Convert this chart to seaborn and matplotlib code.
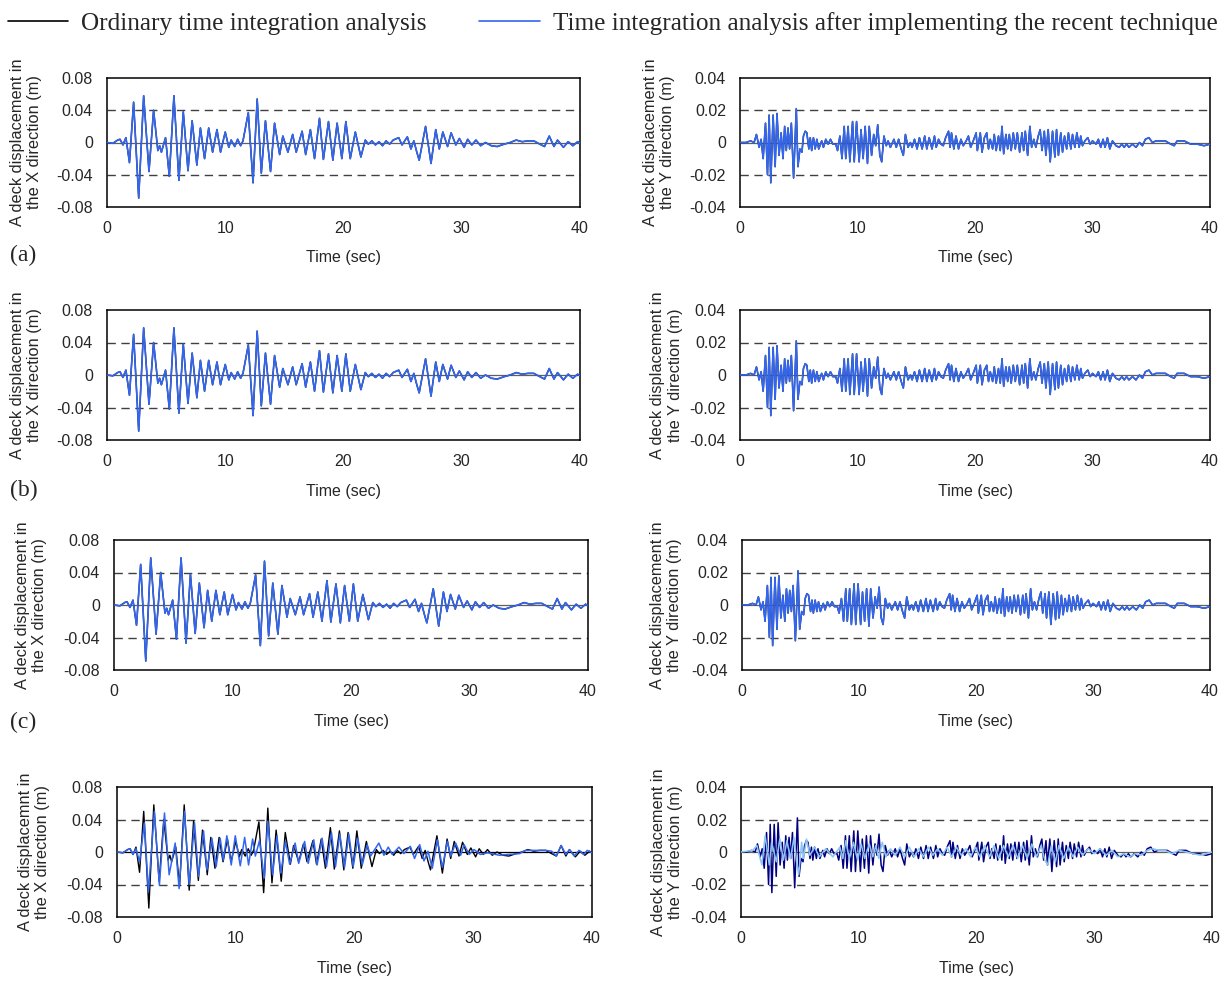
import numpy as np
import pandas as pd
import matplotlib
matplotlib.use("Agg")
import matplotlib.pyplot as plt
from matplotlib.lines import Line2D
import seaborn as sns

# ---- data: (time s, displacement m) at peaks / troughs ----
x_ordinary = [
    (0.0, 0.0), (0.5, -0.001), (0.9, 0.003), (1.1, 0.004), (1.35, -0.003), (1.6, 0.006),
    (1.9, -0.025), (2.25, 0.05), (2.68, -0.069), (3.1, 0.058), (3.55, -0.036), (3.94, 0.04),
    (4.3, -0.01), (4.45, -0.004), (4.6, -0.012), (4.95, 0.006), (5.27, -0.042), (5.66, 0.058),
    (6.08, -0.047), (6.45, 0.038), (6.85, -0.035), (7.2, 0.027), (7.6, -0.028), (7.9, 0.018),
    (8.25, -0.02), (8.6, 0.018), (8.93, -0.012), (9.3, 0.016), (9.6, -0.012), (10.0, 0.013),
    (10.3, -0.006), (10.5, 0.003), (10.8, -0.005), (11.05, 0.004), (11.3, -0.004), (11.5, 0.002),
    (11.95, 0.037), (12.35, -0.05), (12.7, 0.054), (13.05, -0.038), (13.4, 0.027),
    (13.83, -0.036), (14.17, 0.024), (14.6, -0.015), (14.87, 0.008), (15.3, -0.012),
    (15.7, 0.01), (16.0, -0.012), (16.5, 0.014), (16.8, -0.015), (17.2, 0.016), (17.55, -0.02),
    (17.97, 0.03), (18.3, -0.021), (18.73, 0.026), (19.1, -0.022), (19.46, 0.024),
    (19.86, -0.02), (20.2, 0.026), (20.57, -0.02), (21.0, 0.013), (21.47, -0.018),
    (21.84, 0.003), (22.1, -0.002), (22.4, 0.002), (22.7, -0.003), (23.0, 0.001),
    (23.3, -0.004), (23.6, 0.002), (23.9, -0.002), (24.2, 0.003), (24.67, 0.006),
    (24.95, -0.003), (25.4, 0.007), (25.7, -0.008), (25.95, 0.002), (26.2, -0.012),
    (26.4, -0.022), (26.94, 0.02), (27.4, -0.026), (27.8, 0.016), (28.1, -0.008),
    (28.4, 0.013), (28.8, -0.005), (29.1, 0.012), (29.5, -0.003), (29.8, 0.005),
    (30.2, -0.006), (30.5, 0.004), (30.85, -0.003), (31.2, 0.003), (31.6, -0.004),
    (32.0, 0.0), (32.5, -0.004), (33.0, -0.005), (33.6, -0.002), (34.1, 0.0), (34.6, 0.003),
    (35.1, 0.001), (35.6, 0.002), (36.1, 0.002), (36.6, -0.002), (37.0, -0.005),
    (37.4, 0.008), (37.8, -0.005), (38.1, 0.003), (38.6, -0.006), (39.0, 0.001),
    (39.4, -0.004), (39.8, 0.001), (40.0, -0.001),
]

# X record after the recent technique, case (d)
x_new_d = [
    (0.0, 0.0), (0.5, -0.001), (0.9, 0.003), (1.1, 0.004), (1.35, -0.003), (1.6, 0.004),
    (1.9, -0.012), (2.31, 0.036), (2.64, -0.049), (3.15, 0.05), (3.57, -0.041), (4.0, 0.048),
    (4.39, -0.028), (4.9, 0.011), (5.23, -0.045), (5.68, 0.05), (6.08, -0.04), (6.53, 0.036),
    (6.86, -0.03), (7.29, 0.026), (7.57, -0.022), (7.99, 0.017), (8.35, -0.018),
    (8.69, 0.017), (8.95, -0.01), (9.25, 0.02), (9.62, -0.016), (9.96, 0.02), (10.38, -0.017),
    (10.75, 0.018), (11.08, -0.016), (11.42, 0.016), (11.65, -0.005), (12.0, 0.014),
    (12.4, -0.032), (12.7, 0.038), (13.1, -0.028), (13.47, 0.02), (13.8, -0.026),
    (14.18, 0.013), (14.54, -0.015), (15.0, 0.011), (15.3, -0.014), (15.8, 0.013),
    (16.1, -0.014), (16.57, 0.015), (16.85, -0.016), (17.27, 0.017), (17.64, -0.018),
    (18.06, 0.024), (18.4, -0.018), (18.76, 0.022), (19.16, -0.019), (19.52, 0.022),
    (19.89, -0.018), (20.28, 0.017), (20.65, -0.016), (21.07, 0.009), (21.35, -0.005),
    (22.05, 0.011), (22.48, -0.004), (22.84, 0.006), (23.18, -0.003), (23.74, 0.006),
    (24.16, -0.002), (24.7, 0.007), (25.06, -0.008), (25.49, 0.009), (25.85, -0.011),
    (26.19, 0.001), (26.55, -0.02), (26.98, 0.015), (27.4, -0.019), (27.82, 0.013),
    (28.1, -0.005), (28.52, 0.011), (28.94, -0.004), (29.23, 0.009), (29.65, -0.003),
    (30.07, 0.003), (30.6, -0.003), (31.2, -0.001), (32.2, -0.004), (33.0, -0.003),
    (33.9, -0.002), (34.4, 0.002), (35.3, 0.002), (36.1, 0.002), (36.6, 0.001),
    (37.0, -0.005), (37.4, 0.008), (37.8, -0.003), (38.1, 0.003), (38.5, -0.005),
    (38.9, 0.002), (39.3, -0.003), (39.6, 0.002), (40.0, -0.001),
]

y_ordinary = [
    (0.0, 0.0), (0.5, 0.0), (0.9, 0.001), (1.2, 0.0), (1.4, 0.005), (1.63, -0.003),
    (1.8, 0.002), (1.97, -0.01), (2.17, 0.012), (2.34, -0.02), (2.48, 0.017), (2.62, -0.025),
    (2.82, 0.017), (2.99, -0.015), (3.15, 0.018), (3.32, -0.008), (3.5, 0.006), (3.66, -0.01),
    (3.8, 0.01), (3.94, -0.005), (4.08, 0.009), (4.22, -0.004), (4.37, 0.012), (4.56, -0.022),
    (4.79, 0.021), (4.93, -0.015), (5.1, -0.004), (5.27, -0.006), (5.4, 0.004), (5.55, 0.007),
    (5.69, 0.006), (5.86, -0.004), (5.98, 0.003), (6.1, -0.005), (6.25, 0.003), (6.4, -0.004),
    (6.54, 0.002), (6.7, -0.004), (6.95, 0.001), (7.1, -0.003), (7.3, 0.002), (7.5, -0.001),
    (7.7, 0.002), (7.9, -0.001), (8.15, -0.001), (8.3, -0.005), (8.5, 0.004), (8.68, -0.01),
    (8.87, 0.01), (9.0, -0.01), (9.2, 0.01), (9.35, -0.012), (9.58, 0.013), (9.72, -0.012),
    (9.92, 0.013), (10.14, -0.012), (10.3, 0.008), (10.48, -0.01), (10.65, 0.01),
    (10.85, -0.013), (11.0, 0.01), (11.2, -0.008), (11.38, 0.005), (11.55, -0.002),
    (11.72, 0.011), (11.9, -0.008), (12.06, -0.012), (12.25, 0.004), (12.45, -0.002),
    (12.6, 0.001), (12.8, -0.003), (13.1, 0.002), (13.3, -0.003), (13.5, 0.002),
    (13.72, -0.004), (13.9, -0.008), (14.08, 0.005), (14.3, -0.003), (14.5, 0.0),
    (14.65, -0.003), (14.85, 0.002), (15.07, -0.004), (15.27, 0.003), (15.5, -0.004),
    (15.72, 0.004), (15.9, -0.004), (16.1, 0.003), (16.34, -0.004), (16.55, 0.004),
    (16.7, -0.003), (16.9, 0.002), (17.1, -0.001), (17.3, -0.002), (17.5, 0.003),
    (17.75, 0.007), (17.88, -0.003), (18.0, 0.006), (18.2, -0.004), (18.38, 0.004),
    (18.6, -0.004), (18.8, 0.002), (19.0, -0.002), (19.25, 0.001), (19.44, 0.004),
    (19.63, -0.003), (19.85, 0.001), (20.1, 0.006), (20.2, -0.005), (20.45, 0.006),
    (20.6, -0.006), (20.8, 0.003), (21.0, 0.006), (21.15, -0.004), (21.3, 0.002),
    (21.5, -0.004), (21.64, 0.005), (21.8, -0.005), (22.0, 0.004), (22.15, -0.005),
    (22.3, 0.01), (22.44, -0.007), (22.63, 0.005), (22.78, -0.004), (22.92, 0.005),
    (23.08, -0.005), (23.26, 0.006), (23.43, -0.004), (23.6, 0.006), (23.8, -0.006),
    (24.0, 0.006), (24.14, -0.005), (24.28, 0.007), (24.48, -0.008), (24.67, 0.01),
    (24.82, -0.003), (25.0, 0.002), (25.18, -0.003), (25.38, 0.004), (25.55, 0.008),
    (25.7, -0.005), (25.9, 0.007), (26.03, -0.008), (26.23, 0.008), (26.4, -0.012),
    (26.6, 0.007), (26.8, -0.009), (26.94, 0.008), (27.1, -0.008), (27.3, 0.006),
    (27.45, -0.006), (27.62, 0.004), (27.8, -0.004), (27.95, 0.006), (28.16, -0.004),
    (28.3, 0.005), (28.5, -0.003), (28.67, 0.006), (28.87, -0.003), (29.0, 0.004),
    (29.15, -0.002), (29.35, 0.001), (29.6, 0.003), (29.8, -0.001), (30.0, 0.001),
    (30.3, -0.001), (30.5, 0.002), (30.7, -0.003), (30.9, 0.002), (31.07, -0.003),
    (31.27, 0.003), (31.47, -0.004), (31.7, 0.001), (32.0, -0.002), (32.27, -0.003),
    (32.5, -0.001), (32.7, -0.003), (32.9, -0.001), (33.1, -0.003), (33.4, -0.001),
    (33.7, -0.003), (34.0, 0.0), (34.25, -0.002), (34.5, 0.002), (34.8, 0.003), (35.1, 0.0),
    (35.4, 0.001), (35.8, 0.001), (36.2, 0.001), (36.66, -0.001), (36.95, -0.002),
    (37.2, 0.001), (37.8, 0.001), (38.35, -0.001), (38.9, -0.001), (39.5, -0.002),
    (40.0, -0.001),
]

# Y record after the recent technique, case (d)
y_new_d = [
    (0.0, 0.0), (1.0, 0.001), (1.35, 0.004), (1.77, -0.008), (2.05, 0.01), (2.4, -0.008),
    (2.6, 0.006), (3.0, -0.006), (3.3, 0.008), (3.6, -0.005), (3.9, 0.007), (4.2, -0.004),
    (4.5, 0.009), (4.7, -0.005), (4.9, -0.014), (5.15, 0.006), (5.3, -0.004), (5.56, 0.008),
    (5.85, -0.002), (6.25, 0.003), (6.65, -0.003), (7.2, 0.002), (7.8, -0.003), (8.4, 0.003),
    (8.65, -0.004), (8.9, 0.007), (9.2, -0.004), (9.55, 0.006), (9.9, -0.005), (10.2, 0.005),
    (10.5, -0.004), (10.9, 0.005), (11.2, -0.003), (11.45, 0.004), (11.7, -0.004),
    (12.0, 0.006), (12.3, -0.003), (12.7, 0.002), (13.1, -0.002), (13.5, 0.003),
    (13.9, -0.003), (14.3, 0.003), (14.7, -0.003), (15.1, 0.002), (15.5, -0.003),
    (15.9, 0.003), (16.3, -0.002), (16.7, 0.002), (17.1, -0.002), (17.5, 0.003),
    (17.9, -0.003), (18.3, 0.003), (18.7, -0.002), (19.1, 0.002), (19.5, -0.003),
    (19.9, 0.003), (20.3, -0.003), (20.7, 0.004), (21.1, -0.003), (21.5, 0.004),
    (21.9, -0.004), (22.3, 0.004), (22.7, -0.003), (23.1, 0.004), (23.5, -0.004),
    (23.9, 0.004), (24.3, -0.004), (24.7, 0.005), (25.1, -0.003), (25.5, 0.004),
    (25.8, -0.005), (26.05, -0.008), (26.35, 0.004), (26.7, -0.006), (27.0, 0.004),
    (27.4, -0.004), (27.8, 0.003), (28.2, -0.003), (28.6, 0.003), (29.0, -0.002),
    (29.5, 0.002), (30.0, -0.001), (30.5, 0.002), (31.0, -0.002), (31.5, 0.001),
    (32.0, -0.003), (32.5, -0.001), (33.0, -0.003), (33.5, -0.001), (34.0, -0.002),
    (34.5, 0.001), (35.0, 0.002), (35.5, 0.001), (36.0, 0.001), (36.6, -0.001),
    (37.2, 0.001), (37.8, 0.0), (38.4, -0.001), (39.0, -0.002), (39.5, -0.001), (40.0, 0.0),
]

x_ticks = [0, 10, 20, 30, 40]
x_yticks = [-0.08, -0.04, 0, 0.04, 0.08]
x_ylabels = ["-0.08", "-0.04", "0", "0.04", "0.08"]
y_yticks = [-0.04, -0.02, 0, 0.02, 0.04]
y_ylabels = ["-0.04", "-0.02", "0", "0.02", "0.04"]

legend_labels = ["Ordinary time integration analysis",
                 "Time integration analysis after implementing the recent technique"]

sns.set_style("white")
plt.rcParams["font.family"] = ["Liberation Sans", "DejaVu Sans"]

W, H = 1229, 983
fig = plt.figure(figsize=(W / 100, H / 100), dpi=100)

BLUE = "#3366ee"
SERIF = ["Liberation Serif", "DejaVu Serif"]


def make_ax(l, r, t, b):
    return fig.add_axes([l / W, 1 - b / H, (r - l) / W, (b - t) / H])


def series_df(pairs):
    return pd.DataFrame(pairs, columns=["t", "v"])


def style_ax(ax, kind, ylab, lab_x, zero_color="#606060"):
    lim = 0.08 if kind == "X" else 0.04
    grid = 0.04 if kind == "X" else 0.02
    ax.set_xlim(0, 40)
    ax.set_ylim(-lim, lim)
    ax.axhline(0, color=zero_color, lw=0.9, zorder=1)
    for g in (grid, -grid):
        ax.axhline(g, color="#404040", lw=1.0, ls=(0, (6, 4)), zorder=1)
    ax.set_xticks(x_ticks)
    ax.set_xticklabels([str(v) for v in x_ticks])
    if kind == "X":
        ax.set_yticks(x_yticks)
        ax.set_yticklabels(x_ylabels)
    else:
        ax.set_yticks(y_yticks)
        ax.set_yticklabels(y_ylabels)
    ax.tick_params(axis="x", direction="in", length=4, width=1, pad=10, labelsize=11.5, color="#555555")
    ax.tick_params(axis="y", length=0, pad=10, labelsize=11.5)
    for s in ax.spines.values():
        s.set_color("black")
        s.set_linewidth(1.1)
    ax.set_xlabel("Time (sec)", fontsize=11.5)
    ax.xaxis.set_label_coords(0.5, -0.335)
    ax.set_ylabel(ylab, fontsize=11.8, linespacing=1.2)
    ax.yaxis.set_label_coords(lab_x, 0.5)


def draw(ax, pairs, color, lw):
    sns.lineplot(data=series_df(pairs), x="t", y="v", ax=ax, color=color, lw=lw,
                 estimator=None, sort=False, zorder=3, solid_joinstyle="round")


lab_x = "A deck displacement in\nthe X direction (m)"
lab_y = "A deck displacement in\nthe Y direction (m)"

boxes = [
    # (left, right, top, bottom, kind, label, label x)
    (107, 580, 78, 207, "X", lab_x, -0.137),
    (740, 1210, 78, 207, "Y", lab_y, -0.138),
    (107, 580, 310, 440, "X", lab_x, -0.137),
    (740, 1210, 310, 440, "Y", lab_y, -0.122),
    (114, 588, 540, 670, "X", lab_x, -0.141),
    (742, 1210, 540, 670, "Y", lab_y, -0.128),
    (117, 592, 787, 917, "X", "A deck displacemnt in\nthe X direction (m)", -0.141),
    (741, 1212, 787, 917, "Y", lab_y, -0.123),
]

for i, (l, r, t, b, kind, ylab, lx) in enumerate(boxes):
    ax = make_ax(l, r, t, b)
    last_row = i >= 6
    if kind == "X":
        draw(ax, x_ordinary, "black", 1.0)
        if last_row:
            draw(ax, x_new_d, BLUE, 1.1)
        else:
            draw(ax, x_ordinary, BLUE, 1.2)
    else:
        if last_row:
            draw(ax, y_ordinary, "#000080", 1.1)
            draw(ax, y_new_d, "#8cc4f5", 1.1)
        else:
            draw(ax, y_ordinary, "black", 1.0)
            draw(ax, y_ordinary, BLUE, 1.2)
    style_ax(ax, kind, ylab, lx, zero_color="black" if (last_row and kind == "X") else "#606060")

# panel letters
for letter, yc in [("(a)", 255), ("(b)", 490), ("(c)", 722)]:
    fig.text(10 / W, 1 - yc / H, letter, fontsize=17, family=SERIF, va="center", ha="left")

handles = [Line2D([], [], color="black", lw=1.2), Line2D([], [], color=BLUE, lw=1.2)]
fig.legend(handles, legend_labels, loc="upper left", bbox_to_anchor=(0.0, 1.0 - 4 / H), ncol=2,
           frameon=False, prop={"family": SERIF, "size": 18.2}, handlelength=2.4,
           handletextpad=0.5, columnspacing=2.1, borderpad=0.1, borderaxespad=0.2)

fig.savefig("out.png", dpi=100)
